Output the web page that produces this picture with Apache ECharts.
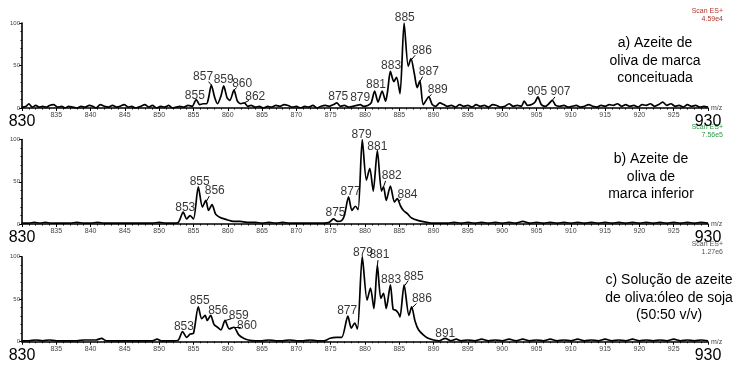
<!DOCTYPE html>
<html>
<head>
<meta charset="utf-8">
<script src="https://cdn.jsdelivr.net/npm/echarts@6/dist/echarts.min.js"></script>
<style>
  html, body { margin: 0; padding: 0; background: #fff; }
  #main { width: 738px; height: 370px; }
</style>
</head>
<body>
<div id="main"></div>
<script>
// m/z range shared by the three spectra
var mzMin = 830, mzMax = 930;

// relative intensity (%) against m/z
var spectrumA = [
  [830,1],[830.6,2],[831,5],[831.5,1],[832,3],[832.5,1],[833,2],[833.6,1],[834,3],[834.6,4],
  [835.2,1],[835.8,2],[836.3,0],[836.8,2],[837.4,1],[838,0],[838.6,2],[839.2,1],[839.8,3],[840.3,2],
  [840.8,0],[841.4,4],[842,2],[842.6,1],[843.2,3],[843.8,1],[844.3,2],[844.9,4],[845.5,1],[846,2],
  [846.6,0],[847.3,2],[847.9,4],[848.5,1],[849,3],[849.6,0],[850.2,2],[850.8,1],[851.4,3],[851.9,0],
  [852.5,1],[853,2],[853.6,1],[854.2,3],[854.8,2],[855.4,10],[855.9,4],[856.4,5],[856.9,5],[857.2,12],
  [857.6,27],[858.1,12],[858.5,5],[859,14],[859.4,26],[859.9,12],[860.3,9],[860.9,21],[861.4,8],[861.9,5],
  [862.4,6],[862.9,2],[863.4,3],[864,1],[864.6,2],[865.2,0],[865.8,2],[866.4,1],[867,3],[867.6,2],
  [868.2,4],[868.8,3],[869.4,1],[870,2],[870.6,0],[871.2,2],[871.8,1],[872.4,3],[873,0],[873.6,2],
  [874.2,3],[874.8,2],[875.4,4],[875.9,6],[876.4,2],[877,3],[877.6,1],[878.2,2],[878.8,3],[879.3,4],
  [879.8,2],[880.4,3],[880.9,6],[881.4,20],[881.9,7],[882.5,20],[883,8],[883.3,20],[883.7,43],[884.2,31],
  [884.6,36],[885.1,17],[885.7,100],[886.3,49],[886.7,58],[887.2,40],[887.6,24],[888,32],[888.5,4],[889.3,13],
  [889.8,4],[890.3,2],[890.9,6],[891.5,4],[892,2],[892.6,3],[893.2,1],[893.8,4],[894.4,2],[895,3],
  [895.6,1],[896.2,4],[896.8,2],[897.4,3],[898,1],[898.6,4],[899.2,3],[899.8,1],[900.4,2],[901,5],
  [901.6,2],[902.2,3],[902.8,2],[903.2,8],[903.7,3],[904.3,4],[904.8,7],[905.2,13],[905.7,4],[906.3,2],
  [906.8,5],[907.3,9],[907.8,3],[908.4,2],[909,3],[909.6,1],[910.2,2],[910.8,3],[911.4,1],[912,2],
  [912.6,4],[913.2,2],[913.8,1],[914.4,3],[915,2],[915.6,4],[916.2,3],[916.8,5],[917.4,2],[918,4],
  [918.6,2],[919.2,3],[919.8,1],[920.4,4],[921,3],[921.6,5],[922.2,2],[922.8,4],[923.4,7],[924,3],
  [924.6,5],[925.2,2],[925.8,3],[926.4,1],[927,4],[927.6,2],[928.2,3],[928.8,1],[929.4,2],[930,1]
];

var spectrumB = [
  [830,1],[831,1],[831.8,2],[832.6,1],[833.4,2],[834.2,1],[835,1],[836,1],[837,1],[838,2],
  [839,1],[840,1],[841,2],[842,1],[843,1],[844,1],[845,1],[846,1],[847,1],[848,1],
  [849,1],[850,2],[851,1],[852,1],[852.8,2],[853.5,14],[854,6],[854.5,10],[855,6],[855.7,44],
  [856.3,20],[856.8,28],[857.2,16],[857.7,23],[858.2,12],[858.6,9],[859.1,7],[859.9,5],[860.8,3],[861.8,3],
  [862.8,2],[864,2],[865,1],[866,2],[867,1],[868,2],[869,1],[870,1],[871,1],[872,1],
  [873,1],[874,1],[874.8,2],[875.4,6],[876,3],[876.6,4],[877,10],[877.6,32],[878.1,16],[878.6,21],
  [879,17],[879.6,100],[880.2,52],[880.7,66],[881.2,39],[881.8,87],[882.4,39],[882.7,44],[883.1,28],[883.7,45],
  [884.3,26],[884.7,30],[885.2,21],[885.6,16],[886.2,12],[886.8,7],[887.8,4],[889,2],[890,1],[891,1],
  [892,1],[893,2],[894,1],[895,2],[896,1],[897,2],[898,1],[899,2],[900,1],[901,2],
  [902,1],[903,3],[904,1],[905,2],[906,1],[907,2],[908,1],[909,2],[910,1],[911,2],
  [912,1],[913,2],[914,1],[915,2],[916,1],[917,2],[918,1],[919,2],[920,1],[921,2],
  [922,1],[923,2],[924,1],[925,2],[926,1],[927,2],[928,1],[929,2],[930,1]
];

var spectrumC = [
  [830,1],[831,1],[832,2],[833,1],[834,2],[835,1],[836,1],[837,1],[838,1],[839,2],
  [840,2],[840.8,2],[841.6,4],[842.3,1],[843,1],[844,1],[845,1],[846,1],[847,1],[848,1],
  [849,1],[849.7,3],[850.3,1],[851,1],[852,1],[852.8,2],[853.4,12],[854,5],[854.5,9],[855,10],
  [855.7,41],[856.2,27],[856.7,31],[857,25],[857.5,31],[858,20],[858.5,17],[859,14],[859.6,25],[860.2,15],
  [860.9,17],[861.6,8],[862.3,4],[863,2],[864,1],[865,1],[866,2],[867,1],[868,1],[869,2],
  [870,1],[871,1],[872,2],[873,1],[874,1],[874.9,4],[875.8,5],[876.6,5],[877.5,30],[878,16],
  [878.5,22],[878.9,15],[879.6,100],[880.3,49],[880.8,63],[881.3,39],[881.8,90],[882.3,51],[882.7,57],[883.1,39],
  [883.7,67],[884.1,38],[884.5,37],[884.9,33],[885.1,29],[885.7,67],[886.4,31],[886.8,41],[887.3,24],[887.8,14],
  [888.5,8],[889.2,4],[890,2],[890.8,1],[891.7,4],[892.5,1],[893.3,3],[894,1],[895,2],[896,1],
  [897,3],[898,1],[899,2],[900,1],[901,3],[902,1],[903,3],[904,1],[905,2],[906,1],
  [907,3],[908,1],[909,2],[910,1],[911,3],[912,1],[913,2],[914,1],[915,3],[916,1],
  [917,2],[918,1],[919,3],[920,1],[921,2],[922,1],[923,2],[924,1],[925,3],[926,1],
  [927,2],[928,1],[929,2],[930,1]
];

// peak labels: [m/z, intensity where the text sits, text]
var peaksA = [
  [855.2,15,'855'],[856.4,37,'857'],[859.4,33,'859'],[862.1,29,'860'],[864,13,'862'],
  [876.1,13,'875'],[879.3,12,'879'],[881.6,28,'881'],[883.8,50,'883'],[885.8,106,'885'],
  [888.3,68,'886'],[889.3,43,'887'],[890.6,22,'889'],[905.1,19,'905'],[908.5,19,'907']
];
var peaksB = [
  [853.8,19,'853'],[855.9,50,'855'],[858.1,39,'856'],[875.7,13,'875'],[877.9,38,'877'],
  [879.5,106,'879'],[881.8,92,'881'],[883.9,57,'882'],[886.2,35,'884']
];
var peaksC = [
  [853.6,18,'853'],[855.9,48,'855'],[858.6,37,'856'],[861.6,31,'859'],[862.8,19,'860'],
  [877.4,37,'877'],[879.7,105,'879'],[882.1,102,'881'],[883.8,73,'883'],[887.1,77,'885'],
  [888.3,51,'886'],[891.7,10,'891']
];

// leader ticks from a label to its peak: [m/z1, int1, m/z2, int2]
var leadersA = [
  [857.2,31,857.6,27],[861.3,24,860.9,21],[863.1,9,862.4,6],[887.3,62,886.8,57],
  [888.4,37,888,31],[889.7,16,889.3,13],[907.7,13,907.3,9]
];
var leadersB = [
  [857.3,33,856.9,27],[883,51,882.7,44],[885.3,29,884.8,27]
];
var leadersC = [
  [860.5,27,859.7,25],[861.9,17,861,17],[881.9,96,881.8,90],[886.3,72,885.8,66],[887.5,45,886.9,40]
];

// scan headers and sample captions
var scanTotals = ['4.59e4', '7.56e5', '1.27e6'];
var scanColors = ['#b3362c', '#2e9a48', '#555555'];
var captions = [
  'a) Azeite de\noliva de marca\nconceituada',
  'b) Azeite de\noliva de\nmarca inferior',
  'c) Solução de azeite\nde oliva:óleo de soja\n(50:50 v/v)'
];

var FONT = 'Liberation Sans, Arial, sans-serif';
var spectra = [spectrumA, spectrumB, spectrumC];
var peaks = [peaksA, peaksB, peaksC];
var leaders = [leadersA, leadersB, leadersC];
var grids = [
  { left: 22, right: 30, top: 23, height: 85 },
  { left: 22, right: 30, top: 139.5, height: 84.5 },
  { left: 22, right: 30, top: 256.7, height: 85 }
];

var xAxes = [], yAxes = [], series = [];
for (var i = 0; i < 3; i++) {
  xAxes.push({
    type: 'value', gridIndex: i, min: mzMin, max: mzMax, interval: 5,
    name: 'm/z', nameLocation: 'end', nameGap: 3,
    nameTextStyle: { fontSize: 7, color: '#444', fontFamily: FONT, verticalAlign: 'middle' },
    axisLine: { lineStyle: { color: '#000', width: 1.6 } },
    axisTick: { length: 3, lineStyle: { color: '#000', width: 1 } },
    minorTick: { show: true, splitNumber: 5, length: 1.5, lineStyle: { color: '#000' } },
    splitLine: { show: false },
    axisLabel: {
      margin: 4, fontSize: 7, color: '#444', fontFamily: FONT,
      formatter: function (v) {
        return (v === mzMin || v === mzMax) ? '{big|' + v + '}' : String(v);
      },
      rich: { big: { fontSize: 16, color: '#000', fontFamily: FONT, padding: [2, 0, 0, 0] } }
    }
  });
  yAxes.push({
    type: 'value', gridIndex: i, min: 0, max: 100, interval: 50,
    axisLine: { show: true, lineStyle: { color: '#000', width: 1.6 } },
    axisTick: { show: true, length: 3, lineStyle: { color: '#000' } },
    minorTick: { show: true, splitNumber: 5, length: 1.5, lineStyle: { color: '#000' } },
    splitLine: { show: false },
    axisLabel: { margin: 2, fontSize: 6, color: '#444', fontFamily: FONT }
  });
  series.push({
    type: 'line', xAxisIndex: i, yAxisIndex: i,
    data: spectra[i], showSymbol: false, smooth: 0.25, silent: true,
    lineStyle: { color: '#000', width: 1.7 }
  });
  series.push({
    type: 'lines', coordinateSystem: 'cartesian2d', xAxisIndex: i, yAxisIndex: i,
    silent: true, lineStyle: { color: '#000', width: 1, opacity: 1 },
    data: leaders[i].map(function (d) { return { coords: [[d[0], d[1]], [d[2], d[3]]] }; })
  });
  series.push({
    type: 'scatter', xAxisIndex: i, yAxisIndex: i,
    data: peaks[i], symbolSize: 2, clip: false, silent: true,
    itemStyle: { color: 'rgba(0,0,0,0)' },
    labelLayout: { hideOverlap: false },
    label: {
      show: true, position: 'inside', fontSize: 12, color: '#000', fontFamily: FONT,
      formatter: function (p) { return p.value[2]; }
    }
  });
}

var graphics = [];
var scanY = [12, 128, 245];
var captionY = [61, 177, 298];
var captionX = [655, 651, 669];
for (var j = 0; j < 3; j++) {
  graphics.push({
    type: 'text', x: 723, y: scanY[j] + 3,
    style: { text: 'Scan ES+\n' + scanTotals[j], fill: scanColors[j], font: '7px ' + FONT,
             align: 'right', verticalAlign: 'middle', lineHeight: 8 }
  });
  graphics.push({
    type: 'text', x: captionX[j], y: captionY[j],
    style: { text: captions[j], fill: '#000', font: '14px ' + FONT, align: 'center',
             verticalAlign: 'middle', lineHeight: 17.5 }
  });
}

var chart = echarts.init(document.getElementById('main'));
chart.setOption({
  animation: false,
  grid: grids,
  xAxis: xAxes,
  yAxis: yAxes,
  series: series,
  graphic: graphics
});
</script>
</body>
</html>
